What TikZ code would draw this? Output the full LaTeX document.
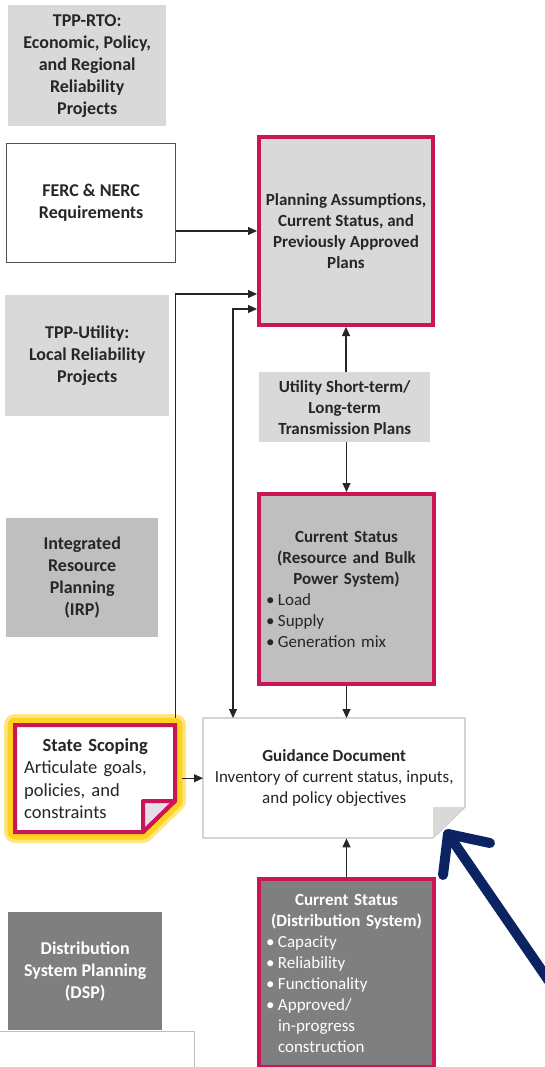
\documentclass[tikz,border=0pt]{standalone}
\usepackage{fontspec}
\setmainfont{Carlito}
\usetikzlibrary{arrows.meta,calc}

\definecolor{ink}{HTML}{262626}
\definecolor{lightfill}{HTML}{D9D9D9}
\definecolor{midfill}{HTML}{BFBFBF}
\definecolor{darkfill}{HTML}{7F7F7F}
\definecolor{crimson}{HTML}{CC1559}
\definecolor{navy}{HTML}{0B2363}
\definecolor{glow}{HTML}{FFD21F}
\definecolor{foldfill}{HTML}{E6DEEA}

\newcommand{\blt}{\makebox[12pt][l]{•}}
\newcommand{\bind}{\hspace*{12pt}}

\begin{document}
\begin{tikzpicture}[x=1pt,y=-1pt,
  box/.style={rectangle, anchor=north west, inner sep=0pt, align=center,
    text=ink, font=\bfseries\fontsize{18}{22}\selectfont},
  sidebox/.style={box, fill=lightfill},
  keybox/.style={box, draw=crimson, line width=4pt,
    font=\fontsize{17}{21}\selectfont},
  listbox/.style={keybox, text width=161pt, inner xsep=7pt, align=left},
  arr/.style={draw=ink, line width=1.1pt, -{Triangle[length=9pt,width=8pt]}},
  biarr/.style={draw=ink, line width=1.1pt,
    {Triangle[length=9pt,width=8pt]}-{Triangle[length=9pt,width=8pt]}},
  pointer/.style={draw=navy, line width=10pt, line cap=round, line join=round}]

\useasboundingbox[fill=white] (0,0) rectangle (544,1067);

% left column
\node[sidebox, minimum width=158pt, minimum height=121pt] (rto) at (8,5)
  {TPP-RTO:\\Economic, Policy,\\and Regional\\Reliability\\Projects};
\node[box, draw=ink!80, line width=1.3pt, fill=white,
  minimum width=169pt, minimum height=119pt] (ferc) at (6,143)
  {FERC \& NERC\\Requirements};
\node[sidebox, minimum width=164pt, minimum height=121pt] (tppu) at (5,295)
  {TPP-Utility:\\Local Reliability\\Projects};
\node[box, fill=midfill, minimum width=152pt, minimum height=119pt] (irp) at (6,518)
  {Integrated\\Resource\\Planning\\(IRP)};
\node[box, fill=darkfill, text=white, minimum width=154pt, minimum height=118pt] (dsp) at (8,912)
  {Distribution\\System Planning\\(DSP)};
\node[box, draw=midfill, line width=1pt, fill=white,
  minimum width=196pt, minimum height=60pt] (lower) at (-2,1031) {};

% centre column
\node[keybox, fill=lightfill, font=\bfseries\fontsize{17}{21}\selectfont,
  minimum width=174pt, minimum height=188pt] (plan) at (257,135)
  {Planning Assumptions,\\Current Status, and\\Previously Approved\\Plans};
\node[sidebox, font=\bfseries\fontsize{17}{21}\selectfont,
  minimum width=171pt, minimum height=70pt] (util) at (259,372)
  {Utility Short-term/\\Long-term\\Transmission Plans};
\node[listbox, fill=midfill, minimum height=190pt] (csb) at (257,492)
  {{\centering\bfseries Current Status\\(Resource and Bulk\\Power System)\par}
   \raggedright\blt Load\\\blt Supply\\\blt Generation mix};
\node[listbox, fill=darkfill, text=white, minimum height=188pt] (csd) at (257,877)
  {{\centering\bfseries Current Status\\(Distribution System)\par}
   \raggedright\blt Capacity\\\blt Reliability\\\blt Functionality\\\blt Approved/\\
   \bind in-progress\\\bind construction};

% guidance document: folded sheet
\draw[draw=midfill, line width=1.2pt, fill=white]
  (203,718) -- (465,718) -- (465,807) -- (433,838) -- (203,838) -- cycle;
\fill[lightfill] (433,807) -- (465,807) -- (433,838) -- cycle;
\node[box, font=\fontsize{17}{21}\selectfont, minimum width=262pt, minimum height=120pt]
  (guide) at (203,718)
  {{\bfseries Guidance Document}\\Inventory of current status, inputs,\\and policy objectives};

% state scoping note: highlighted folded sheet
\draw[glow!55, line width=22pt, line join=round]
  (15,725) -- (175,725) -- (175,801) -- (143,832) -- (15,832) -- cycle;
\draw[glow, line width=15pt, line join=round]
  (15,725) -- (175,725) -- (175,801) -- (143,832) -- (15,832) -- cycle;
\fill[white] (15,725) -- (175,725) -- (175,801) -- (143,832) -- (15,832) -- cycle;
\draw[crimson, line width=4pt, fill=foldfill, line join=round]
  (143,801) -- (175,801) -- (143,832) -- cycle;
\draw[crimson, line width=4pt]
  (15,725) -- (175,725) -- (175,801) -- (143,832) -- (15,832) -- cycle;
\node[box, text width=142pt, inner xsep=9pt, align=left,
  font=\fontsize{18.5}{22.5}\selectfont, minimum height=107pt] (state) at (15,725)
  {{\centering\bfseries State Scoping\par}\raggedright
   Articulate goals,\\policies, and\\constraints};

% connectors
\draw[arr] (ferc.east |- plan.west) -- (plan.west);
\draw[arr, shorten <=7pt] (state.north east) |- ([yshift=-63pt]plan.west);
\draw[biarr] ([xshift=30pt]guide.north west) |- ([yshift=-78pt]plan.west);
\draw[arr] (plan.south |- util.north) -- (plan.south);
\draw[arr] (csb.north |- util.south) -- (csb.north);
\draw[arr] (csb.south) -- (csb.south |- guide.north);
\draw[arr] (csd.north) -- (csd.north |- guide.south);
\draw[arr, shorten <=7pt] (state.east |- guide.west) -- (guide.west);

% pointer to the guidance document
\coordinate (tip) at (448,834);
\coordinate (armA) at (490,843);
\coordinate (armB) at (443,875);
\coordinate (tail) at (562,1000);
\draw[pointer] (armA) -- (tip) -- (armB);
\draw[pointer] (tip) -- (tail);
\end{tikzpicture}
\end{document}
